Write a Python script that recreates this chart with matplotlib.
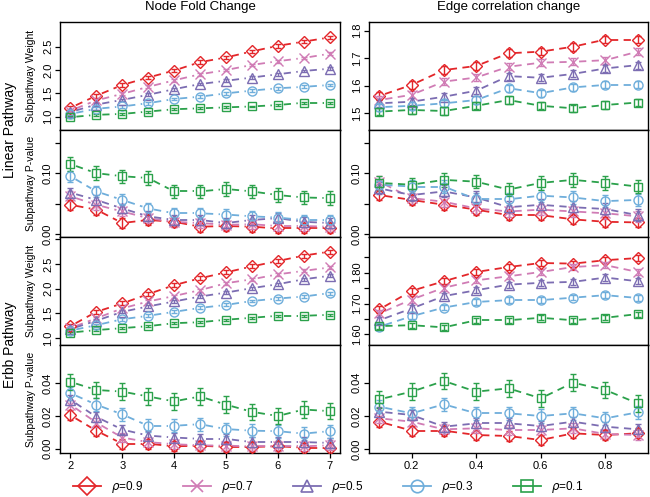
import numpy as np
import matplotlib
matplotlib.use('Agg')
import matplotlib.pyplot as plt
from matplotlib.lines import Line2D

plt.rcParams['font.family'] = ['Liberation Sans', 'DejaVu Sans']

# ---------------- data ----------------
series_labels = [r'$\rho$=0.9', r'$\rho$=0.7', r'$\rho$=0.5', r'$\rho$=0.3', r'$\rho$=0.1']
colors = ['#E3262A', '#D07CB5', '#7C6DB2', '#6FAEDB', '#2BA14B']
markers = ['D', 'x', '^', 'o', 's']

x_node = [2.0, 2.5, 3.0, 3.5, 4.0, 4.5, 5.0, 5.5, 6.0, 6.5, 7.0]
x_edge = [0.1, 0.2, 0.3, 0.4, 0.5, 0.6, 0.7, 0.8, 0.9]

# Linear pathway, node fold change, subpathway weight (rho 0.9 ... 0.1)
lin_node_w = [
    [1.19, 1.45, 1.68, 1.84, 1.99, 2.17, 2.27, 2.40, 2.52, 2.61, 2.70],
    [1.13, 1.35, 1.49, 1.64, 1.78, 1.91, 2.00, 2.11, 2.19, 2.26, 2.35],
    [1.10, 1.26, 1.36, 1.47, 1.59, 1.70, 1.77, 1.84, 1.91, 1.98, 2.03],
    [1.06, 1.17, 1.22, 1.29, 1.38, 1.43, 1.50, 1.56, 1.61, 1.64, 1.68],
    [0.99, 1.04, 1.06, 1.11, 1.16, 1.18, 1.20, 1.22, 1.25, 1.30, 1.30],
]
lin_node_w_err = [0.04, 0.03, 0.03, 0.03, 0.02]

# Linear pathway, edge correlation change, subpathway weight
lin_edge_w = [
    [1.563, 1.603, 1.657, 1.672, 1.718, 1.724, 1.742, 1.768, 1.768],
    [1.548, 1.567, 1.615, 1.630, 1.669, 1.684, 1.687, 1.693, 1.724],
    [1.536, 1.542, 1.560, 1.582, 1.635, 1.629, 1.643, 1.663, 1.675],
    [1.522, 1.527, 1.536, 1.548, 1.591, 1.573, 1.594, 1.603, 1.603],
    [1.506, 1.512, 1.508, 1.527, 1.548, 1.527, 1.518, 1.530, 1.539],
]
lin_edge_w_err = [0.014, 0.013, 0.013, 0.013, 0.013]

# Linear pathway, node fold change, p-value
lin_node_p = [
    [0.048, 0.040, 0.018, 0.023, 0.020, 0.012, 0.013, 0.012, 0.009, 0.009, 0.009],
    [0.062, 0.048, 0.037, 0.026, 0.020, 0.018, 0.015, 0.016, 0.013, 0.013, 0.012],
    [0.068, 0.056, 0.042, 0.029, 0.023, 0.023, 0.018, 0.023, 0.026, 0.020, 0.018],
    [0.095, 0.070, 0.056, 0.042, 0.034, 0.034, 0.032, 0.029, 0.027, 0.023, 0.023],
    [0.115, 0.100, 0.095, 0.092, 0.070, 0.070, 0.074, 0.070, 0.064, 0.060, 0.059],
]
lin_node_p_err = [0.008, 0.008, 0.008, 0.009, 0.011]

# Linear pathway, edge correlation change, p-value
lin_edge_p = [
    [0.064, 0.056, 0.048, 0.040, 0.031, 0.031, 0.024, 0.020, 0.019],
    [0.086, 0.059, 0.053, 0.042, 0.037, 0.040, 0.037, 0.034, 0.029],
    [0.075, 0.064, 0.070, 0.060, 0.044, 0.048, 0.044, 0.041, 0.031],
    [0.081, 0.078, 0.078, 0.057, 0.057, 0.063, 0.060, 0.054, 0.056],
    [0.084, 0.081, 0.089, 0.086, 0.073, 0.084, 0.089, 0.084, 0.078],
]
lin_edge_p_err = [0.008, 0.009, 0.010, 0.010, 0.011]

# Erbb pathway, node fold change, subpathway weight
erbb_node_w = [
    [1.24, 1.53, 1.70, 1.89, 2.07, 2.21, 2.33, 2.45, 2.56, 2.67, 2.75],
    [1.20, 1.40, 1.60, 1.74, 1.85, 1.97, 2.11, 2.19, 2.29, 2.36, 2.43],
    [1.18, 1.35, 1.53, 1.64, 1.74, 1.84, 1.92, 2.01, 2.09, 2.19, 2.26],
    [1.15, 1.26, 1.38, 1.45, 1.53, 1.61, 1.67, 1.75, 1.80, 1.84, 1.91],
    [1.11, 1.16, 1.20, 1.24, 1.30, 1.32, 1.37, 1.41, 1.45, 1.45, 1.47],
]
erbb_node_w_err = [0.04, 0.03, 0.03, 0.03, 0.02]

# Erbb pathway, edge correlation change, subpathway weight
erbb_edge_w = [
    [1.681, 1.741, 1.772, 1.802, 1.818, 1.831, 1.829, 1.840, 1.847],
    [1.668, 1.713, 1.751, 1.775, 1.788, 1.802, 1.818, 1.824, 1.802],
    [1.646, 1.684, 1.724, 1.743, 1.761, 1.767, 1.770, 1.784, 1.772],
    [1.625, 1.659, 1.687, 1.705, 1.711, 1.711, 1.719, 1.727, 1.718],
    [1.627, 1.630, 1.623, 1.646, 1.646, 1.654, 1.646, 1.654, 1.666],
]
erbb_edge_w_err = [0.010, 0.010, 0.010, 0.009, 0.008]

# Erbb pathway, node fold change, p-value
erbb_node_p = [
    [0.0205, 0.0110, 0.0030, 0.0030, 0.0014, 0.0018, 0.0010, 0.0010, 0.0014, 0.0006, 0.0006],
    [0.0270, 0.0160, 0.0068, 0.0040, 0.0027, 0.0020, 0.0018, 0.0014, 0.0014, 0.0014, 0.0020],
    [0.0300, 0.0195, 0.0117, 0.0080, 0.0068, 0.0060, 0.0060, 0.0040, 0.0040, 0.0040, 0.0035],
    [0.0340, 0.0270, 0.0210, 0.0140, 0.0140, 0.0150, 0.0120, 0.0110, 0.0107, 0.0092, 0.0107],
    [0.0410, 0.0360, 0.0350, 0.0320, 0.0290, 0.0320, 0.0270, 0.0226, 0.0200, 0.0240, 0.0230],
]
erbb_node_p_err = [0.003, 0.003, 0.003, 0.004, 0.005]

# Erbb pathway, edge correlation change, p-value
erbb_edge_p = [
    [0.0166, 0.0112, 0.0112, 0.0086, 0.0080, 0.0056, 0.0096, 0.0086, 0.0096],
    [0.0186, 0.0166, 0.0120, 0.0126, 0.0116, 0.0116, 0.0126, 0.0092, 0.0086],
    [0.0226, 0.0206, 0.0136, 0.0156, 0.0156, 0.0140, 0.0166, 0.0136, 0.0120],
    [0.0256, 0.0216, 0.0270, 0.0216, 0.0216, 0.0200, 0.0216, 0.0186, 0.0222],
    [0.0300, 0.0346, 0.0410, 0.0346, 0.0366, 0.0306, 0.0400, 0.0356, 0.0276],
]
erbb_edge_p_err = [0.003, 0.003, 0.003, 0.004, 0.005]

col_titles = ['Node Fold Change', 'Edge correlation change']
row_titles = ['Linear Pathway', 'Erbb Pathway']
ylab_weight = 'Subpathway Weight'
ylab_pval = 'Subpathway P-value'

# ---------------- layout ----------------
W, H = 650, 497
fig = plt.figure(figsize=(W / 100, H / 100), dpi=100)

col_px = [(60, 340), (369, 648)]
row_px = [(22.5, 130), (130, 237), (237, 345), (345, 453)]


def add_ax(r, c):
    x0, x1 = col_px[c]
    y0, y1 = row_px[r]
    return fig.add_axes([x0 / W, 1 - y1 / H, (x1 - x0) / W, (y1 - y0) / H])


ms_map = {'D': 6.5, 'x': 6.5, '^': 7.0, 'o': 6.5, 's': 6.0}


def draw_series(ax, x, y, err, color, marker):
    x = np.asarray(x, float)
    y = np.asarray(y, float)
    ax.errorbar(x, y, yerr=err, fmt='none', ecolor=color, elinewidth=1.0,
                capsize=2.3, capthick=1.0, zorder=2)
    ax.plot(x, y, linestyle='none', marker=marker, ms=ms_map[marker],
            mfc='none', mec=color, mew=1.0, zorder=3)
    # R type="b": dashed segments with gaps around the points
    pts = ax.transData.transform(np.column_stack([x, y]))
    inv = ax.transData.inverted()
    gap = 6.0
    for i in range(len(x) - 1):
        p0, p1 = pts[i], pts[i + 1]
        d = p1 - p0
        L = np.hypot(*d)
        if L > 2 * gap + 1:
            a = p0 + d / L * gap
            b = p1 - d / L * gap
            da, db = inv.transform(np.vstack([a, b]))
            ax.plot([da[0], db[0]], [da[1], db[1]], color=color, lw=1.3,
                    ls=(0, (4, 3)), zorder=1)


panels = [
    (0, 0, x_node, lin_node_w, lin_node_w_err, (0.715, 3.02), [1.0, 1.5, 2.0, 2.5], ['1.0', '1.5', '2.0', '2.5']),
    (0, 1, x_edge, lin_edge_w, lin_edge_w_err, (1.439, 1.83), [1.5, 1.6, 1.7, 1.8], ['1.5', '1.6', '1.7', '1.8']),
    (1, 0, x_node, lin_node_p, lin_node_p_err, (-0.005, 0.171), [0.0, 0.05, 0.10, 0.15], ['0.00', '', '0.10', '']),
    (1, 1, x_edge, lin_edge_p, lin_edge_p_err, (-0.005, 0.171), [0.0, 0.05, 0.10, 0.15], ['0.00', '', '0.10', '']),
    (2, 0, x_node, erbb_node_w, erbb_node_w_err, (0.858, 3.047), [1.0, 1.5, 2.0, 2.5, 3.0], ['1.0', '1.5', '2.0', '2.5', '']),
    (2, 1, x_edge, erbb_edge_w, erbb_edge_w_err, (1.566, 1.915), [1.60, 1.65, 1.70, 1.75, 1.80, 1.85], ['1.60', '', '1.70', '', '1.80', '']),
    (3, 0, x_node, erbb_node_p, erbb_node_p_err, (-0.0027, 0.0636), [0.0, 0.02, 0.04], ['0.00', '0.02', '0.04']),
    (3, 1, x_edge, erbb_edge_p, erbb_edge_p_err, (-0.0022, 0.0626), [0.0, 0.02, 0.04], ['0.00', '0.02', '0.04']),
]

for r, c, xs, ys, errs, ylim, yt, ytl in panels:
    ax = add_ax(r, c)
    ax.set_xlim((1.8, 7.2) if c == 0 else (0.068, 0.932))
    ax.set_ylim(ylim)
    for s in ax.spines.values():
        s.set_linewidth(1.0)
    ax.set_yticks(yt)
    ax.set_yticklabels(ytl)
    ax.tick_params(axis='y', direction='out', length=3.5, width=0.9, pad=1.5,
                   labelsize=8, labelrotation=90)
    for lab in ax.get_yticklabels():
        lab.set_va('center')
    if r == 3:
        if c == 0:
            ax.set_xticks([2, 3, 4, 5, 6, 7])
            ax.set_xticklabels(['2', '3', '4', '5', '6', '7'])
        else:
            ax.set_xticks([0.2, 0.4, 0.6, 0.8])
            ax.set_xticklabels(['0.2', '0.4', '0.6', '0.8'])
        ax.tick_params(axis='x', direction='out', length=3.5, width=0.9, pad=2,
                       labelsize=8)
    else:
        ax.set_xticks([])
    for k in range(5):
        draw_series(ax, xs, ys[k], errs[k], colors[k], markers[k])

# column titles
for c, t in enumerate(col_titles):
    x0, x1 = col_px[c]
    fig.text((x0 + x1) / 2 / W, 1 - 7 / H, t, ha='center', va='center', fontsize=9.5)

# y labels (left column only)
for r in range(4):
    y0, y1 = row_px[r]
    lab = ylab_weight if r % 2 == 0 else ylab_pval
    fig.text(31 / W, 1 - (y0 + y1) / 2 / H, lab, rotation=90, ha='center',
             va='center', fontsize=7.5)

# row titles
for i, t in enumerate(row_titles):
    yc = row_px[2 * i][1]
    fig.text(10 / W, 1 - yc / H, t, rotation=90, ha='center', va='center', fontsize=10)

# legend
handles = [Line2D([0], [0], color=colors[k], marker=markers[k], ms=9, mfc='none',
                  mec=colors[k], mew=1.2, lw=1.3) for k in range(5)]
fig.legend(handles, series_labels, loc='center', bbox_to_anchor=(328 / W, 1 - 487 / H),
           ncol=5, frameon=False, fontsize=8.5, handlelength=2.4, handletextpad=0.8,
           columnspacing=3.4, borderpad=0.1)

fig.savefig('out.png', dpi=100)
